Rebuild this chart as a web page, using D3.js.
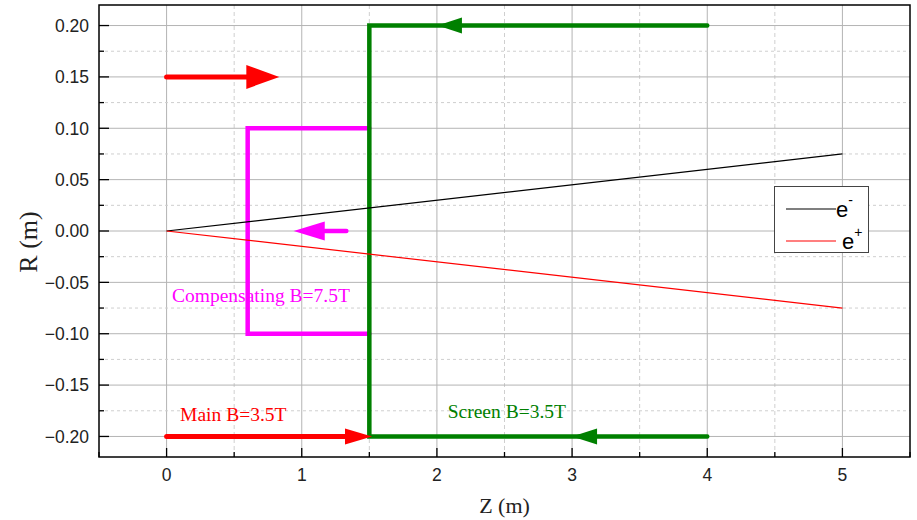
<!DOCTYPE html>
<html>
<head>
<meta charset="utf-8">
<script src="https://cdn.jsdelivr.net/npm/d3@7"></script>
<style>
  html, body { margin: 0; padding: 0; background: #fff; }
  svg { display: block; }
</style>
</head>
<body>
<svg id="chart" width="917" height="520"></svg>
<script>
// Axis ticks
const zTicks = [0, 1, 2, 3, 4, 5];
const zMinorTicks = [-0.5, 0.5, 1.5, 2.5, 3.5, 4.5, 5.5];
const rTicks = [-0.20, -0.15, -0.10, -0.05, 0.00, 0.05, 0.10, 0.15, 0.20];
const rMinorTicks = [-0.175, -0.125, -0.075, -0.025, 0.025, 0.075, 0.125, 0.175];

// Particle trajectories (Z, R)
const electronZ = [0, 5];
const electronR = [0, 0.075];
const positronZ = [0, 5];
const positronR = [0, -0.075];

// Field regions drawn as thick guides
const mainBottom = [[0, -0.2], [1.32, -0.2]];
const mainTop = [[0, 0.15], [0.6, 0.15]];
const compensatingPath = [[1.5, 0.1], [0.6, 0.1], [0.6, -0.1], [1.5, -0.1]];
const compensatingArrow = [[1.33, 0], [1.17, 0]];
const screenPath = [[4, 0.2], [1.5, 0.2], [1.5, -0.2], [4, -0.2]];

// Arrowheads: [tipZ, baseZ, R]
const mainHeads = [[0.834, 0.59, 0.15], [1.52, 1.32, -0.2]];
const compensatingHeads = [[0.94, 1.17, 0]];
const screenHeads = [[2.005, 2.185, 0.2], [3.0, 3.185, -0.2]];

const labels = [
  { text: "Compensating B=7.5T", z: 0.04, r: -0.0695, color: "#ff00ff" },
  { text: "Main B=3.5T", z: 0.1, r: -0.1845, color: "#ff0000" },
  { text: "Screen B=3.5T", z: 2.08, r: -0.182, color: "#008000" }
];

const svg = d3.select("#chart");
const W = 917, H = 520;
const margin = { left: 99, top: 5, right: 7, bottom: 63 };

const x = d3.scaleLinear().domain([-0.5, 5.5]).range([margin.left, W - margin.right]);
const y = d3.scaleLinear().domain([-0.22, 0.22]).range([H - margin.bottom, margin.top]);

const x0 = margin.left, x1 = W - margin.right, y0 = margin.top, y1 = H - margin.bottom;

// Grid
const grid = svg.append("g");
grid.selectAll(".vmaj").data(zTicks).join("line")
  .attr("x1", d => x(d)).attr("x2", d => x(d)).attr("y1", y0).attr("y2", y1)
  .attr("stroke", "#b4b4b4").attr("stroke-width", 1);
grid.selectAll(".vmin").data(zMinorTicks.filter(d => d > -0.5 && d < 5.5)).join("line")
  .attr("x1", d => x(d)).attr("x2", d => x(d)).attr("y1", y0).attr("y2", y1)
  .attr("stroke", "#cfcfcf").attr("stroke-width", 1).attr("stroke-dasharray", "4,3");
grid.selectAll(".hmaj").data(rTicks).join("line")
  .attr("x1", x0).attr("x2", x1).attr("y1", d => y(d)).attr("y2", d => y(d))
  .attr("stroke", "#b4b4b4").attr("stroke-width", 1);
grid.selectAll(".hmin").data(rMinorTicks).join("line")
  .attr("x1", x0).attr("x2", x1).attr("y1", d => y(d)).attr("y2", d => y(d))
  .attr("stroke", "#cfcfcf").attr("stroke-width", 1).attr("stroke-dasharray", "3,3");

const line = d3.line().x(d => x(d[0])).y(d => y(d[1]));

function head(half) {
  return d => {
    const [tip, base, r] = d;
    const ty = y(r);
    return `M${x(tip)},${ty}L${x(base)},${ty - half}L${x(base)},${ty + half}Z`;
  };
}

// Compensating coil
svg.append("path").attr("d", line(compensatingPath))
  .attr("fill", "none").attr("stroke", "#ff00ff").attr("stroke-width", 4.5)
  .attr("stroke-linecap", "round").attr("stroke-linejoin", "miter");
svg.append("path").attr("d", line(compensatingArrow))
  .attr("fill", "none").attr("stroke", "#ff00ff").attr("stroke-width", 4.5)
  .attr("stroke-linecap", "round");
svg.selectAll(".chead").data(compensatingHeads).join("path")
  .attr("d", head(9.5)).attr("fill", "#ff00ff");

// Screen coil
svg.append("path").attr("d", line(screenPath))
  .attr("fill", "none").attr("stroke", "#008000").attr("stroke-width", 4.5)
  .attr("stroke-linecap", "round").attr("stroke-linejoin", "miter");
svg.selectAll(".shead").data(screenHeads).join("path")
  .attr("d", head(8)).attr("fill", "#008000");

// Main field
[mainTop, mainBottom].forEach(seg => {
  svg.append("path").attr("d", line(seg))
    .attr("fill", "none").attr("stroke", "#ff0000").attr("stroke-width", 5)
    .attr("stroke-linecap", "round");
});
svg.selectAll(".mhead").data(mainHeads).join("path")
  .attr("d", (d, i) => head(i === 0 ? 12 : 8)(d)).attr("fill", "#ff0000");

// Trajectories
const traj = (zs, rs) => zs.map((z, i) => [z, rs[i]]);
svg.append("path").attr("d", line(traj(electronZ, electronR)))
  .attr("fill", "none").attr("stroke", "#000").attr("stroke-width", 1.2);
svg.append("path").attr("d", line(traj(positronZ, positronR)))
  .attr("fill", "none").attr("stroke", "#ff0000").attr("stroke-width", 1.2);

// Annotations
svg.selectAll(".ann").data(labels).join("text")
  .attr("x", d => x(d.z)).attr("y", d => y(d.r))
  .attr("fill", d => d.color)
  .attr("font-family", "'Liberation Serif', 'Times New Roman', serif")
  .attr("font-size", 19.5)
  .text(d => d.text);

// Frame
svg.append("rect").attr("x", x0).attr("y", y0).attr("width", x1 - x0).attr("height", y1 - y0)
  .attr("fill", "none").attr("stroke", "#000").attr("stroke-width", 1.5);

// Axes with inward ticks
const xAxis = svg.append("g").attr("transform", `translate(0,${y1})`);
xAxis.selectAll(".tmaj").data(zTicks).join("line")
  .attr("x1", d => x(d)).attr("x2", d => x(d)).attr("y1", 0).attr("y2", -9)
  .attr("stroke", "#000").attr("stroke-width", 1.3);
xAxis.selectAll(".tmin").data(zMinorTicks).join("line")
  .attr("x1", d => x(d)).attr("x2", d => x(d)).attr("y1", 0).attr("y2", -5)
  .attr("stroke", "#000").attr("stroke-width", 1.3);
xAxis.selectAll(".tl").data(zTicks).join("text")
  .attr("x", d => x(d)).attr("y", 24).attr("text-anchor", "middle")
  .attr("font-family", "'Liberation Sans', Arial, sans-serif").attr("font-size", 17.5)
  .attr("fill", "#222").text(d => d3.format("d")(d));

const yAxis = svg.append("g").attr("transform", `translate(${x0},0)`);
yAxis.selectAll(".tmaj").data(rTicks).join("line")
  .attr("x1", 0).attr("x2", 10).attr("y1", d => y(d)).attr("y2", d => y(d))
  .attr("stroke", "#000").attr("stroke-width", 1.3);
yAxis.selectAll(".tmin").data(rMinorTicks).join("line")
  .attr("x1", 0).attr("x2", 5).attr("y1", d => y(d)).attr("y2", d => y(d))
  .attr("stroke", "#000").attr("stroke-width", 1.3);
yAxis.selectAll(".tl").data(rTicks).join("text")
  .attr("x", -10).attr("y", d => y(d) + 6.3).attr("text-anchor", "end")
  .attr("font-family", "'Liberation Sans', Arial, sans-serif").attr("font-size", 17.5)
  .attr("fill", "#222").text(d => d3.format(".2f")(d));

// Axis titles
svg.append("text").attr("x", (x0 + x1) / 2).attr("y", 513)
  .attr("text-anchor", "middle")
  .attr("font-family", "'Liberation Serif', 'Times New Roman', serif").attr("font-size", 22)
  .attr("fill", "#222").text("Z (m)");
svg.append("text").attr("transform", "translate(37,242) rotate(-90)")
  .attr("text-anchor", "middle")
  .attr("font-family", "'Liberation Serif', 'Times New Roman', serif").attr("font-size", 26)
  .attr("fill", "#222").text("R (m)");

// Legend
const legendItems = [
  { base: "e", sup: "-", color: "#000" },
  { base: "e", sup: "+", color: "#ff0000" }
];
const lg = svg.append("g");
lg.append("rect").attr("x", 774.5).attr("y", 186.5).attr("width", 94).attr("height", 66)
  .attr("fill", "#fff").attr("stroke", "#444").attr("stroke-width", 1);
legendItems.forEach((d, i) => {
  const ly = 209 + i * 32;
  lg.append("line").attr("x1", 786).attr("x2", 836).attr("y1", ly).attr("y2", ly)
    .attr("stroke", d.color).attr("stroke-width", 1.2);
  const t = lg.append("text").attr("x", i === 0 ? 836 : 842).attr("y", ly + 8)
    .attr("font-family", "'Liberation Sans', Arial, sans-serif").attr("font-size", 22)
    .attr("fill", "#000");
  t.append("tspan").text(d.base);
  t.append("tspan").attr("dy", -12).attr("font-size", 14).text(d.sup);
});
</script>
</body>
</html>
